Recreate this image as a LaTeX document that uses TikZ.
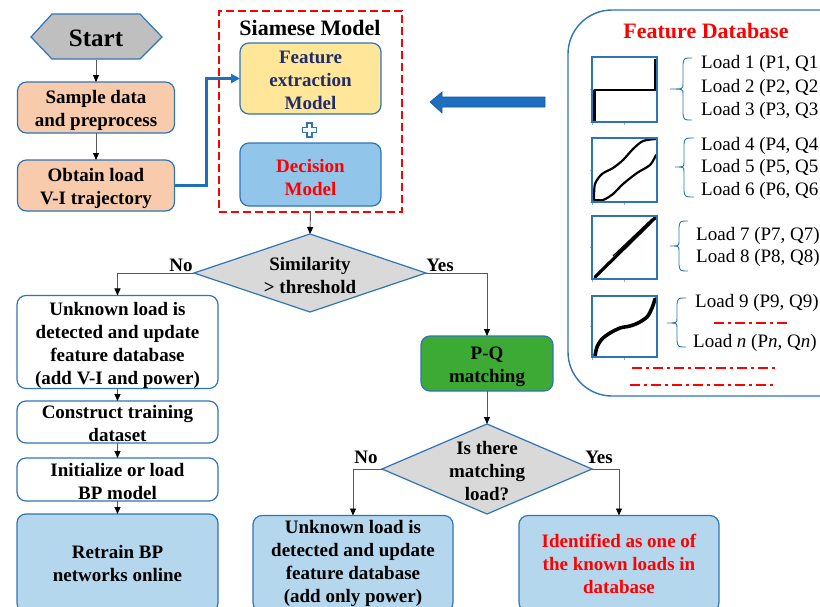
\documentclass[tikz,border=0pt]{standalone}
\usepackage{fontspec}
\setmainfont{Liberation Serif}
\usetikzlibrary{arrows.meta,shapes.geometric}
\definecolor{bblue}{HTML}{2E75B6}
\definecolor{linegray}{HTML}{595959}
\definecolor{diagray}{HTML}{D9D9D9}
\definecolor{startgray}{HTML}{BFBFBF}
\definecolor{orangef}{HTML}{F8CBAD}
\definecolor{yellowf}{HTML}{FFE699}
\definecolor{decblue}{HTML}{92C5EA}
\definecolor{lblue}{HTML}{B4D7EE}
\definecolor{greenf}{HTML}{3DAA35}
\definecolor{navyt}{HTML}{1F2D6B}
\definecolor{redt}{HTML}{FF0000}
\definecolor{arrblue}{HTML}{1F6FC0}
\newcommand{\lowstrut}[1]{\rule{0pt}{#1}}
\begin{document}
\begin{tikzpicture}[x=1pt,y=-1pt,
  txt/.style={font=\fontsize{19}{23}\selectfont\bfseries, align=center, inner sep=0pt},
  box/.style={draw=bblue, line width=1.2pt, rounded corners=9pt, inner sep=0pt, outer sep=0pt,
     font=\fontsize{19}{23}\selectfont\bfseries, align=center},
  dia/.style={diamond, draw=bblue, line width=1.2pt, fill=diagray, inner sep=0pt, outer sep=0pt},
  flow/.style={draw=linegray, line width=0.9pt, -{Triangle[length=7pt,width=6pt,color=black]}},
  lbl/.style={font=\fontsize{19}{23}\selectfont\bfseries, inner sep=0pt},
  load/.style={font=\fontsize{19}{23}\selectfont, anchor=west, inner sep=0pt},
  thumb/.style={draw=bblue, line width=1.4pt},
  curve/.style={draw=black, line width=2.6pt, line join=round, line cap=round},
  brc/.style={draw=bblue, line width=0.9pt},
  reddash/.style={draw=redt, line width=1.8pt, dash pattern=on 10pt off 4pt on 3pt off 4pt},
  tick/.style={draw=gray!70, line width=0.6pt}
]
\useasboundingbox (0,0) rectangle (820,606);
\clip (0,0) rectangle (820,606);

% ---------- Start hexagon ----------
\node[minimum width=131pt, minimum height=45pt, inner sep=0pt, outer sep=0pt] (start) at (96,37) {};
\draw[draw=bblue, line width=1.2pt, fill=startgray] (31,37) -- (52,14) -- (140,14) -- (162,37) -- (140,59) -- (52,59) -- cycle;
\node[txt, font=\fontsize{25}{28}\selectfont\bfseries] (startlbl) at (96,38.5) {Start};

% ---------- Left top boxes ----------
\node[box, fill=orangef, minimum width=157pt, minimum height=51pt] (sample) at (96,107.5) {\lowstrut{20pt}Sample data\\and preprocess};
\node[box, fill=orangef, minimum width=157pt, minimum height=51pt] (obtain) at (96,185.5) {\lowstrut{20pt}Obtain load\\V-I trajectory};

% ---------- Siamese model ----------
\node[draw=redt, line width=1.5pt, dash pattern=on 8pt off 4pt, minimum width=183pt, minimum height=201pt, inner sep=0pt, outer sep=0pt] (siam) at (310.5,111.5) {};
\node[txt, font=\fontsize{22}{25}\selectfont\bfseries] (siamtitle) at (310,28) {Siamese Model};
\node[box, fill=yellowf, text=navyt, minimum width=141pt, minimum height=71pt] (feature) at (310.5,78.5) {\lowstrut{16pt}Feature\\extraction\\Model};
\node[box, fill=decblue, text=redt, minimum width=141pt, minimum height=63pt] (decision) at (310.5,174.5) {\lowstrut{19pt}Decision\\Model};
\draw[draw=bblue, line width=1.1pt, fill=white]
  (307,123) -- (312,123) -- (312,127.5) -- (316.5,127.5) -- (316.5,132.5) -- (312,132.5) -- (312,137)
  -- (307,137) -- (307,132.5) -- (302.5,132.5) -- (302.5,127.5) -- (307,127.5) -- cycle;

% ---------- Decision 1 ----------
\node[dia, minimum width=232pt, minimum height=78pt] (d1) at (310,273) {};
\node[txt] (d1t) at (310,275) {Similarity\\> threshold};

% ---------- Left column ----------
\node[box, fill=white, minimum width=201pt, minimum height=92pt] (unk1) at (117.5,342) {\lowstrut{20pt}Unknown load is\\detected and update\\feature database\\(add V-I and power)};
\node[box, fill=white, minimum width=201pt, minimum height=42pt] (constr) at (117.5,422) {\lowstrut{17pt}Construct training\\dataset};
\node[box, fill=white, minimum width=201pt, minimum height=43pt] (init) at (117.5,479.5) {\lowstrut{18pt}Initialize or load\\BP model};
\node[box, fill=lblue, minimum width=201pt, minimum height=98pt] (retrain) at (117.5,563) {Retrain BP\\networks online};

% ---------- P-Q and decision 2 ----------
\node[box, fill=greenf, minimum width=132pt, minimum height=55pt] (pq) at (487,363.5) {\lowstrut{20pt}P-Q\\matching};
\node[dia, minimum width=210pt, minimum height=90pt] (d2) at (487,469) {};
\node[txt] (d2t) at (487,471) {Is there\\matching\\load?};
\node[box, fill=lblue, minimum width=200pt, minimum height=96pt] (unk2) at (353,563.5) {Unknown load is\\detected and update\\feature database\\(add only power)};
\node[box, fill=lblue, text=redt, minimum width=200pt, minimum height=96pt] (ident) at (619,563.5) {Identified as one of\\the known loads in\\database};

% ---------- Connectors ----------
\draw[flow] (start.south) -- (sample.north);
\draw[flow] (sample.south) -- (obtain.north);
\draw[draw=arrblue, line width=3pt, -{Triangle[length=9pt,width=9pt]}] (obtain.east) -- ++(32,0) |- (feature.west);
\draw[flow] (siam.south) -- (d1.north);
\draw[flow] (d1.west) -| (unk1.north);
\draw[flow] (d1.east) -| (pq.north);
\draw[flow] (unk1.south) -- (constr.north);
\draw[flow] (constr.south) -- (init.north);
\draw[flow] (init.south) -- (retrain.north);
\draw[flow] (pq.south) -- (d2.north);
\draw[flow] (d2.west) -| (unk2.north);
\draw[flow] (d2.east) -| (ident.north);

\node[lbl] (no1) at (181,265) {No};
\node[lbl] (yes1) at (440,265) {Yes};
\node[lbl] (no2) at (366,457) {No};
\node[lbl] (yes2) at (599,457) {Yes};

% ---------- Feature database ----------
\draw[draw=bblue, line width=1.4pt, rounded corners=44pt] (568,10) rectangle (880,396);
\node[txt, font=\fontsize{22}{25}\selectfont\bfseries, text=redt] (dbtitle) at (706,31) {Feature Database};

% block arrow
\draw[draw=arrblue!80!black, line width=0.6pt, fill=arrblue]
  (545,97) -- (442,97) -- (442,92) -- (430,102) -- (442,113) -- (442,107) -- (545,107) -- cycle;

% thumbnails
\foreach \ya/\yb in {57/122, 138/202, 216/279, 296/357}{
  \draw[tick] (592,{(\ya+\yb)/2}) -- ++(-2.5,0);
  \draw[tick] (624.5,\yb) -- ++(0,2.5);
  \draw[tick] (592,\yb) -- ++(0,2.5);
}
\draw[curve, line width=2.4pt, line cap=butt] (594.5,121) -- (594.5,90) -- (655.5,90) -- (655.5,59);
\draw[curve, line width=2.2pt] plot[smooth] coordinates {(594,199) (595,184) (602,174) (613,168) (623,160) (633,149) (643,141) (656,139)};
\draw[curve, line width=2.2pt] plot[smooth] coordinates {(594,200) (603,200) (613,194) (623,184) (637,173) (650,165) (656,155)};
\draw[curve, line width=3.2pt] (595,277) -- (655,218);
\draw[draw=black, line width=1.2pt] (613,256) -- (652,219);
\draw[curve, line width=3.6pt] plot[smooth] coordinates {(595,356) (597,347) (602,339) (610,333) (620,328) (630,326) (638,323) (647,317) (652,308) (655,299)};
\foreach \ya/\yb in {57/122, 138/202, 216/279, 296/357}{
  \draw[thumb] (592,\ya) rectangle (657,\yb);
}

% braces
\draw[brc] (692,58) .. controls (684,58) .. (683,64) -- (683,84) .. controls (683,89) .. (670,89)
  .. controls (683,89) .. (683,94) -- (683,114) .. controls (684,120) .. (692,120);
\draw[brc] (694,138) .. controls (685,138) .. (684,144) -- (684,162) .. controls (684,167) .. (675,167)
  .. controls (684,167) .. (684,172) -- (684,191) .. controls (685,197) .. (694,197);
\draw[brc] (688,221) .. controls (680,221) .. (679,227) -- (679,241) .. controls (679,246) .. (670,246)
  .. controls (679,246) .. (679,251) -- (679,265) .. controls (680,271) .. (688,271);
\draw[brc] (686,298) .. controls (678,298) .. (677,304) -- (677,318) .. controls (677,323) .. (667,323)
  .. controls (677,323) .. (677,328) -- (677,341) .. controls (678,347) .. (686,347);

% load texts (cut at the right edge as in the reference)
\node[load] (l1) at (701,64) {Load 1 (P1, Q1};
\node[load] (l2) at (701,88) {Load 2 (P2, Q2};
\node[load] (l3) at (701,111) {Load 3 (P3, Q3};
\node[load] (l4) at (701,146) {Load 4 (P4, Q4};
\node[load] (l5) at (701,168) {Load 5 (P5, Q5};
\node[load] (l6) at (701,191) {Load 6 (P6, Q6};
\node[load] (l7) at (696,236) {Load 7 (P7, Q7)};
\node[load] (l8) at (696,258) {Load 8 (P8, Q8)};
\node[load] (l9) at (695,303) {Load 9 (P9, Q9)};
\node[load] (ln) at (693,343) {Load \textit{n} (P\textit{n}, Q\textit{n})};

\draw[reddash] (714,323) -- (790,323);
\draw[reddash] (632,368) -- (778,368);
\draw[reddash] (630,385) -- (776,385);
\end{tikzpicture}
\end{document}
